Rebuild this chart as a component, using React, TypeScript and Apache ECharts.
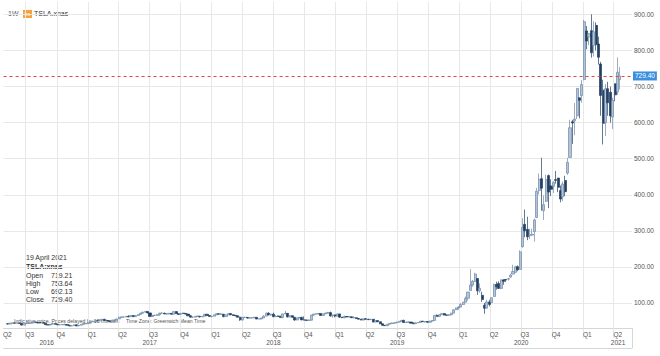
import React, { useEffect, useRef } from 'react';
import * as echarts from 'echarts';

// Weekly bars, first week starting Monday 9 May 2016. Each entry: [open, high, low, close]
const firstWeekStart = '2016-05-09';

const ohlc2016 = [
  [42.3, 42.7, 40.6, 41.5], [41.5, 44.5, 40.9, 44.1], [44.1, 45.3, 43.7, 44.6], [44.6, 45.2, 43.2, 43.8],
  [43.8, 44.9, 43.2, 43.8], [43.8, 44.3, 42.0, 43.1], [43.1, 44.1, 37.6, 38.6], [38.6, 43.6, 38.4, 43.3],
  [43.3, 44.1, 42.2, 43.4], [43.4, 45.1, 43.0, 44.1], [44.1, 45.0, 43.6, 44.5], [44.5, 47.4, 44.2, 47.0],
  [47.0, 47.1, 44.8, 45.2], [45.2, 46.0, 44.7, 45.1], [45.1, 45.6, 44.3, 45.0], [45.0, 45.3, 43.7, 44.0],
  [44.0, 44.2, 39.4, 39.6], [39.6, 40.6, 38.8, 38.9], [38.9, 41.3, 38.5, 41.1], [41.1, 43.3, 40.9, 42.7],
  [42.7, 42.9, 40.5, 40.8], [40.8, 42.3, 39.1, 39.3], [39.3, 40.5, 39.0, 39.3], [39.3, 40.5, 38.8, 40.0],
  [40.0, 42.2, 39.4, 40.0], [40.0, 40.3, 37.9, 38.1], [38.1, 39.4, 35.5, 36.1], [36.1, 37.7, 35.7, 37.0],
  [37.0, 39.6, 37.0, 39.3], [39.3, 39.6, 36.0, 36.3], [36.3, 38.8, 36.1, 38.4], [38.4, 40.8, 38.0, 40.5],
  [40.5, 43.1, 40.3, 42.7], [42.7, 44.4, 42.4, 42.7],
];

const ohlc2017 = [
  [42.7, 46.0, 42.6, 45.8], [45.8, 47.9, 45.1, 47.6], [47.6, 49.2, 46.9, 48.9], [48.9, 51.3, 48.7, 50.6],
  [50.6, 51.0, 49.2, 50.3], [50.3, 54.2, 50.1, 53.8], [53.8, 56.0, 53.2, 54.4], [54.4, 56.3, 50.9, 51.4],
  [51.4, 51.8, 48.9, 50.3], [50.3, 50.8, 48.0, 48.7], [48.7, 53.0, 48.5, 52.3], [52.3, 53.8, 49.4, 52.6],
  [52.6, 56.1, 52.3, 55.7], [55.7, 61.5, 55.6, 60.5], [60.5, 62.7, 59.1, 60.8], [60.8, 61.4, 59.4, 61.1],
  [61.1, 63.3, 60.6, 62.8], [62.8, 65.8, 60.0, 61.7], [61.7, 65.2, 60.9, 65.0], [65.0, 65.7, 60.9, 62.1],
  [62.1, 65.8, 61.8, 65.0], [65.0, 68.3, 64.3, 68.0], [68.0, 72.6, 67.6, 71.5], [71.5, 76.0, 69.9, 74.3],
  [74.3, 77.3, 73.1, 76.5], [76.5, 77.8, 71.4, 72.3], [72.3, 72.9, 62.5, 62.6], [62.6, 66.6, 61.2, 65.6],
  [65.6, 66.2, 63.7, 65.7], [65.7, 69.5, 64.6, 67.0], [67.0, 73.1, 64.2, 71.4], [71.4, 73.8, 70.0, 71.6],
  [71.6, 72.9, 69.0, 69.5], [69.5, 71.0, 67.8, 69.6], [69.6, 71.3, 68.4, 71.1], [71.1, 71.5, 67.9, 68.7],
  [68.7, 76.2, 68.5, 76.0], [76.0, 77.0, 69.5, 70.2], [70.2, 70.7, 67.0, 68.2], [68.2, 72.0, 67.9, 71.4],
  [71.4, 72.6, 69.9, 71.1], [71.1, 71.8, 68.6, 69.0], [69.0, 70.2, 64.0, 64.2], [64.2, 66.5, 59.9, 60.6],
  [60.6, 62.6, 59.7, 60.6], [60.6, 63.5, 60.3, 63.0], [63.0, 64.0, 62.2, 63.1], [63.1, 64.1, 59.5, 61.4],
  [61.4, 63.4, 60.6, 63.0], [63.0, 69.4, 62.4, 68.7], [68.7, 69.2, 64.5, 65.0], [65.0, 65.1, 62.0, 62.3],
];

const ohlc2018 = [
  [62.3, 64.8, 60.1, 63.2], [63.2, 67.7, 62.9, 67.2], [67.2, 70.9, 66.2, 70.0], [70.0, 70.9, 68.0, 68.6],
  [68.6, 72.4, 67.2, 68.8], [68.8, 69.2, 60.1, 62.1], [62.1, 67.9, 61.6, 67.1], [67.1, 70.6, 66.2, 70.4],
  [70.4, 72.3, 66.2, 67.0], [67.0, 67.9, 64.0, 65.4], [65.4, 67.0, 63.0, 64.3], [64.3, 64.8, 60.2, 60.3],
  [60.3, 62.0, 50.4, 53.2], [53.2, 61.1, 50.8, 59.9], [59.9, 61.6, 58.4, 60.1], [60.1, 60.9, 56.4, 58.0],
  [58.0, 59.6, 56.7, 58.8], [58.8, 59.9, 56.9, 58.8], [58.8, 61.1, 58.0, 60.2], [60.2, 60.7, 55.1, 55.4],
  [55.4, 57.6, 55.0, 55.8], [55.8, 58.7, 54.6, 58.4], [58.4, 65.6, 58.3, 63.5], [63.5, 73.0, 63.2, 71.6],
  [71.6, 74.0, 66.6, 66.7], [66.7, 69.9, 65.0, 68.6], [68.6, 73.1, 61.4, 61.8], [61.8, 65.6, 61.5, 63.8],
  [63.8, 65.0, 62.0, 62.7], [62.7, 64.4, 59.0, 59.4], [59.4, 70.0, 57.6, 69.6], [69.6, 77.5, 68.9, 71.1],
  [71.1, 71.4, 60.3, 61.1], [61.1, 65.6, 60.7, 64.6], [64.6, 64.8, 59.4, 60.3], [60.3, 60.8, 50.6, 52.6],
  [52.6, 59.4, 51.9, 59.0], [59.0, 61.4, 56.5, 59.8], [59.8, 62.1, 52.2, 53.0], [53.0, 63.0, 52.0, 52.4],
  [52.4, 53.4, 50.9, 51.8], [51.8, 53.6, 50.0, 52.2], [52.2, 67.4, 51.6, 66.2], [66.2, 69.7, 64.2, 69.2],
  [69.2, 71.2, 67.5, 70.1], [70.1, 71.0, 67.1, 70.9], [70.9, 71.9, 64.1, 65.2], [65.2, 70.4, 64.5, 70.1],
  [70.1, 73.0, 69.0, 71.6], [71.6, 75.3, 71.0, 73.1], [73.1, 76.0, 62.4, 64.0], [64.0, 67.5, 58.8, 66.8],
];

const ohlc2019 = [
  [66.8, 67.9, 60.0, 63.5], [63.5, 70.2, 62.8, 69.5], [69.5, 70.0, 58.9, 60.5], [60.5, 61.2, 57.6, 59.4],
  [59.4, 65.0, 57.0, 62.4], [62.4, 63.2, 60.4, 61.2], [61.2, 63.1, 60.3, 61.6], [61.6, 62.4, 58.4, 58.9],
  [58.9, 63.1, 57.0, 59.0], [59.0, 59.1, 55.9, 56.8], [56.8, 58.3, 54.1, 55.1], [55.1, 55.7, 52.0, 52.9],
  [52.9, 56.3, 51.3, 56.0], [56.0, 58.1, 53.5, 55.0], [55.0, 55.2, 53.0, 53.6], [53.6, 55.3, 52.7, 54.7],
  [54.7, 54.9, 46.6, 47.0], [47.0, 51.4, 46.9, 51.0], [51.0, 51.2, 46.8, 47.9], [47.9, 48.1, 41.3, 42.2],
  [42.2, 42.4, 36.8, 38.1], [38.1, 38.6, 37.0, 37.0], [37.0, 41.9, 35.4, 40.9], [40.9, 44.6, 40.8, 42.8],
  [42.8, 45.7, 42.6, 44.4], [44.4, 45.4, 42.7, 44.7], [44.7, 48.2, 44.5, 46.6], [46.6, 49.2, 45.0, 49.1],
  [49.1, 52.8, 48.6, 51.6], [51.6, 53.6, 45.1, 45.6], [45.6, 48.3, 45.1, 46.9], [46.9, 47.9, 44.2, 47.0],
  [47.0, 47.5, 43.3, 44.0], [44.0, 45.7, 42.0, 42.3], [42.3, 45.5, 41.6, 45.1], [45.1, 46.4, 44.0, 45.9],
  [45.9, 49.9, 45.5, 49.4], [49.4, 49.5, 47.1, 48.1], [48.1, 49.7, 45.0, 48.4], [48.4, 49.9, 45.2, 46.3],
  [46.3, 50.3, 45.8, 49.6], [49.6, 52.3, 49.3, 51.4], [51.4, 66.4, 50.9, 65.6], [65.6, 68.3, 62.0, 62.7],
  [62.7, 67.9, 61.5, 67.4], [67.4, 70.9, 67.1, 70.4], [70.4, 72.2, 65.0, 66.6], [66.6, 67.4, 64.5, 66.0],
  [66.0, 67.6, 64.1, 67.2], [67.2, 72.0, 67.0, 71.7], [71.7, 82.2, 71.5, 81.1], [81.1, 87.1, 80.7, 86.1],
];

const ohlc2020 = [
  [86.1, 90.8, 81.0, 88.6], [88.6, 99.7, 88.0, 95.6], [95.6, 103.3, 95.0, 102.1], [102.1, 117.9, 101.6, 113.0],
  [113.0, 130.6, 106.2, 130.1], [134.7, 193.8, 134.0, 149.6], [149.6, 164.0, 145.0, 160.0], [160.0, 183.5, 158.0, 180.2],
  [167.8, 168.0, 122.3, 133.6], [133.6, 154.0, 128.5, 140.7], [121.0, 131.0, 103.0, 109.3], [93.8, 100.0, 70.1, 85.5],
  [85.5, 109.0, 85.0, 102.9], [102.9, 109.0, 90.5, 96.0], [101.0, 115.0, 100.0, 114.6], [118.0, 154.0, 117.0, 150.8],
  [150.8, 159.0, 137.0, 145.0], [154.0, 160.0, 139.0, 140.3], [140.3, 165.0, 138.0, 163.9], [163.9, 165.6, 150.5, 159.8],
  [165.0, 166.5, 158.0, 163.4], [166.0, 169.5, 162.0, 167.0], [171.6, 181.0, 170.0, 177.1], [180.0, 206.0, 179.0, 187.1],
  [185.0, 203.0, 183.0, 200.2], [200.5, 204.0, 188.0, 191.9], [193.0, 246.0, 193.0, 241.7], [256.0, 335.0, 253.0, 308.9],
  [318.0, 359.0, 282.0, 300.1], [304.0, 339.0, 274.0, 283.4], [286.0, 306.0, 277.0, 286.2], [288.0, 306.0, 287.0, 290.5],
  [298.0, 334.0, 270.0, 330.1], [337.0, 419.0, 335.0, 410.0], [412.0, 459.0, 401.0, 442.7], [444.6, 502.5, 356.0, 418.3],
  [356.0, 398.0, 329.9, 372.7], [381.9, 456.0, 380.0, 442.2], [453.1, 456.0, 363.0, 407.3], [424.6, 443.0, 396.5, 415.1],
  [423.4, 437.9, 405.1, 434.0], [442.0, 465.9, 431.0, 439.7], [446.2, 447.0, 407.0, 420.6], [411.6, 425.8, 379.1, 388.0],
  [394.0, 436.6, 382.0, 430.0], [439.5, 452.5, 396.0, 408.5], [460.2, 502.5, 455.0, 489.6], [503.5, 607.8, 503.0, 585.8],
  [602.2, 607.8, 541.0, 599.0], [604.9, 654.3, 565.0, 610.0], [619.0, 695.0, 610.0, 695.0], [668.9, 668.9, 612.0, 661.8],
  [674.5, 718.7, 655.0, 705.7],
];

const ohlc2021 = [
  [719.5, 884.5, 717.2, 880.0], [854.4, 868.0, 803.6, 826.2], [837.8, 848.0, 815.0, 846.6], [855.0, 900.4, 780.1, 793.5],
  [814.3, 880.5, 783.2, 852.2], [869.7, 877.8, 800.0, 816.1], [818.0, 838.7, 761.0, 781.3], [762.6, 768.5, 619.0, 675.5],
  [690.1, 719.0, 539.5, 598.0], [600.6, 707.0, 563.0, 693.7], [694.1, 713.2, 619.0, 654.9], [684.3, 699.6, 600.0, 618.7],
  [615.6, 669.0, 582.5, 661.8], [707.7, 708.2, 659.0, 677.0], [685.7, 780.8, 677.5, 739.8], [719.21, 753.64, 692.13, 729.4],
];

const priceTicks = [100, 200, 300, 400, 500, 600, 700, 800, 900];
const lastClose = 729.4;
const infoDate = '19 April 2021';
const infoSymbol = 'TSLA:xnas';
const infoLabels = ['Open', 'High', 'Low', 'Close'];
const infoValues = ['719.21', '753.64', '692.13', '729.40'];
const quarterStarts = [
  '2016-07-01', '2016-10-01', '2017-01-01', '2017-04-01', '2017-07-01', '2017-10-01',
  '2018-01-01', '2018-04-01', '2018-07-01', '2018-10-01', '2019-01-01', '2019-04-01',
  '2019-07-01', '2019-10-01', '2020-01-01', '2020-04-01', '2020-07-01', '2020-10-01',
  '2021-01-01', '2021-04-01',
];
const yearLabelDates = ['2016-09-01', '2017-07-02', '2018-07-02', '2019-07-02', '2020-07-02', '2021-04-14'];

const FONT = '"Liberation Sans", Arial, sans-serif';
const DAY = 86400000;
const ts = (s: string) => Date.parse(s + 'T00:00:00Z');

export default function App() {
  const ref = useRef<HTMLDivElement>(null);

  useEffect(() => {
    if (!ref.current) return;
    const chart = echarts.init(ref.current, null, { renderer: 'svg' });

    const all = [...ohlc2016, ...ohlc2017, ...ohlc2018, ...ohlc2019, ...ohlc2020, ...ohlc2021];
    const start = ts(firstWeekStart);
    const data = all.map((d, i) => [start + i * 7 * DAY, d[0], d[3], d[2], d[1]]);

    const xMin = ts('2016-04-27');
    const xMax = ts('2021-05-25');
    const qTicks = quarterStarts.map(ts);
    const qLabels = [ts('2016-05-08'), ...qTicks.map((t) => t + 12 * DAY)];
    const yLabels = yearLabelDates.map(ts);

    const grey = '#555';
    const gridColor = '#e8e8e8';

    const graphic: any[] = [
      { type: 'text', left: 8, top: 10, style: { text: '1W', fontSize: 7, fill: grey, fontFamily: FONT } },
      { type: 'rect', shape: { x: 23, y: 10, width: 9, height: 8 }, style: { fill: '#f3a33a' } },
      { type: 'text', x: 27.5, y: 14, style: { text: 'hs', fontSize: 5, fill: '#fff', fontFamily: FONT, align: 'center', verticalAlign: 'middle' } },
      { type: 'text', left: 34, top: 10, style: { text: 'TSLA.xnas', fontSize: 7, fill: '#333', fontFamily: FONT } },
      { type: 'text', x: 26, y: 257, style: { text: infoDate, fontSize: 7, fill: '#333', fontFamily: FONT, verticalAlign: 'middle' } },
      { type: 'text', x: 26, y: 266.5, style: { text: infoSymbol, fontSize: 7, fontWeight: 'bold', fill: '#333', fontFamily: FONT, verticalAlign: 'middle' } },
      ...infoLabels.flatMap((lab, i) => [
        { type: 'text', x: 26, y: 275 + i * 8.2, style: { text: lab, fontSize: 7, fill: '#333', fontFamily: FONT, verticalAlign: 'middle' } },
        { type: 'text', x: 51, y: 275 + i * 8.2, style: { text: infoValues[i], fontSize: 7, fill: '#333', fontFamily: FONT, verticalAlign: 'middle' } },
      ]),
      { type: 'text', x: 14, y: 321, style: { text: 'Indicative price. Prices delayed by 15 minutes', fontSize: 5.2, fill: grey, fontFamily: FONT, verticalAlign: 'middle' } },
      { type: 'text', x: 126, y: 321, style: { text: 'Time Zone: Greenwich Mean Time', fontSize: 5.2, fill: grey, fontFamily: FONT, verticalAlign: 'middle' } },
      { type: 'line', shape: { x1: 632.5, y1: 328, x2: 632.5, y2: 348 }, style: { stroke: '#d6d6d6', lineWidth: 1 } },
    ];

    const option: any = {
      animation: false,
      textStyle: { fontFamily: FONT },
      grid: { left: 0, right: 28, top: 2, bottom: 28, containLabel: false },
      xAxis: [
        {
          type: 'time', min: xMin, max: xMax,
          axisLine: { show: false }, axisTick: { show: false }, axisLabel: { show: false }, splitLine: { show: false },
        },
        {
          type: 'value', min: xMin, max: xMax, position: 'bottom',
          axisLine: { show: true, lineStyle: { color: '#d6d6d6' } },
          axisTick: { show: true, customValues: qTicks, length: 10, lineStyle: { color: '#e3e3e3' } },
          axisLabel: {
            customValues: qLabels, margin: 3, fontSize: 6.5, color: grey,
            formatter: (v: number) => 'Q' + (Math.floor(new Date(v).getUTCMonth() / 3) + 1),
          },
          splitLine: { show: true, lineStyle: { color: gridColor } },
        },
        {
          type: 'value', min: xMin, max: xMax, position: 'bottom', offset: 20,
          axisLine: { show: true, lineStyle: { color: '#d6d6d6' } },
          axisTick: { show: false },
          axisLabel: {
            inside: true, customValues: yLabels, margin: 2, fontSize: 6.5, color: grey,
            formatter: (v: number) => String(new Date(v).getUTCFullYear()),
          },
          splitLine: { show: false },
        },
      ],
      yAxis: {
        type: 'value', position: 'right', min: 30.5, max: 934.5,
        axisLine: { show: false },
        axisTick: { show: false, customValues: priceTicks },
        axisLabel: { customValues: priceTicks, margin: 2, fontSize: 6.5, color: grey, formatter: (v: number) => v.toFixed(2) },
        splitLine: { show: true, lineStyle: { color: gridColor } },
      },
      series: [
        {
          type: 'candlestick', xAxisIndex: 0, yAxisIndex: 0, data, barWidth: 2.6,
          itemStyle: { color: '#b3c4d8', color0: '#233f62', borderColor: '#6f89a8', borderColor0: '#233f62', borderWidth: 0.7 },
          markLine: {
            silent: true, symbol: ['none', 'none'], animation: false,
            lineStyle: { color: '#e2463f', type: [3, 3], width: 1 },
            label: {
              show: true, position: 'end', distance: 1, formatter: lastClose.toFixed(2),
              backgroundColor: '#3b8fe0', color: '#fff', fontSize: 6.5, padding: [1, 2, 1, 2],
            },
            data: [{ yAxis: lastClose }],
          },
        },
      ],
      graphic,
    };

    chart.setOption(option);
    return () => chart.dispose();
  }, []);

  return (
    <div
      ref={ref}
      style={{ position: 'fixed', left: 0, top: 0, width: 660, height: 356, background: '#fff' }}
    />
  );
}
